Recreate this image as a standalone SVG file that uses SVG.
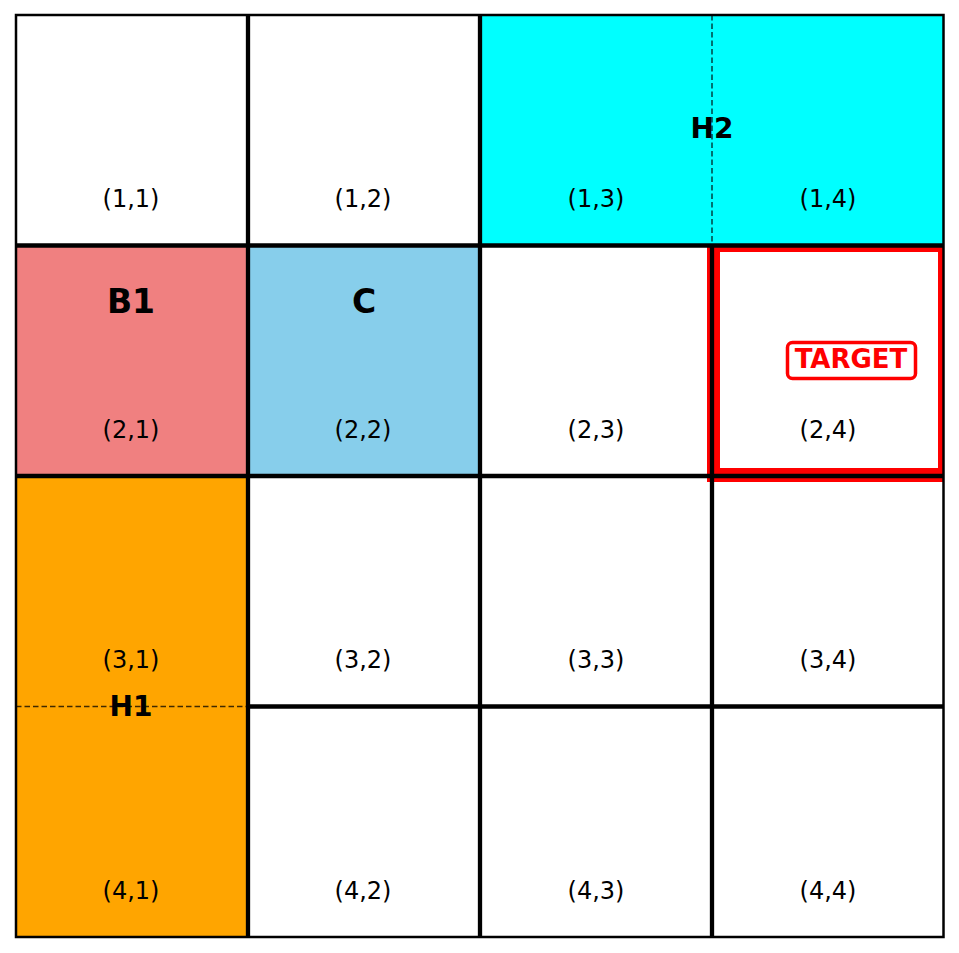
<svg xmlns="http://www.w3.org/2000/svg" width="959" height="953" viewBox="0 0 959 953">
<style>
.cell{stroke:#d3d3d3;stroke-width:1}
.grid{stroke:#000;stroke-width:4.3;fill:none}
.dash{stroke:#000;stroke-opacity:0.75;stroke-width:1.5;stroke-dasharray:5.5,3;fill:none}
.lbl{font-family:"DejaVu Sans",sans-serif;font-size:24px;text-anchor:middle;fill:#000}
.big{font-family:"DejaVu Sans",sans-serif;font-weight:bold;font-size:33px;text-anchor:middle;fill:#000}
.mid{font-family:"DejaVu Sans",sans-serif;font-weight:bold;font-size:28px;text-anchor:middle;fill:#000}
.tgt{font-family:"DejaVu Sans",sans-serif;font-weight:bold;font-size:26px;text-anchor:middle;fill:#ff0000}
</style>
<rect x="0" y="0" width="959" height="953" fill="#fff"/>
<g id="cells">
<g id="c11"><rect class="cell" x="16" y="15" width="232" height="230.5" fill="#fff"/><text class="lbl" x="131" y="207">(1,1)</text></g>
<g id="c12"><rect class="cell" x="248" y="15" width="232" height="230.5" fill="#fff"/><text class="lbl" x="363" y="207">(1,2)</text></g>
<g id="H2"><rect class="cell" x="480" y="15" width="463.5" height="230.5" fill="#00ffff"/></g>
<g id="B1"><rect class="cell" x="16" y="245.5" width="232" height="230.5" fill="#f08080"/></g>
<g id="C"><rect class="cell" x="248" y="245.5" width="232" height="230.5" fill="#87ceeb"/></g>
<g id="c23"><rect class="cell" x="480" y="245.5" width="232" height="230.5" fill="#fff"/></g>
<g id="c24"><rect class="cell" x="712" y="245.5" width="231.5" height="230.5" fill="#fff"/></g>
<g id="H1"><rect class="cell" x="16" y="476" width="232" height="461" fill="#ffa500"/></g>
<g id="c32"><rect class="cell" x="248" y="476" width="232" height="230.5" fill="#fff"/></g>
<g id="c33"><rect class="cell" x="480" y="476" width="232" height="230.5" fill="#fff"/></g>
<g id="c34"><rect class="cell" x="712" y="476" width="231.5" height="230.5" fill="#fff"/></g>
<g id="c42"><rect class="cell" x="248" y="706.5" width="232" height="230.5" fill="#fff"/></g>
<g id="c43"><rect class="cell" x="480" y="706.5" width="232" height="230.5" fill="#fff"/></g>
<g id="c44"><rect class="cell" x="712" y="706.5" width="231.5" height="230.5" fill="#fff"/></g>
</g>
<g id="highlight">
<path fill="#ff0000" fill-rule="evenodd" d="M707 246 H943.5 V482 H707 Z M720 252 V468 H938 V252 Z"/>
</g>
<g id="connectors">
<line class="grid" x1="248" y1="15" x2="248" y2="937"/>
<line class="grid" x1="480" y1="15" x2="480" y2="937"/>
<line class="grid" x1="712" y1="245.5" x2="712" y2="937"/>
<line class="grid" x1="16" y1="245.5" x2="943.5" y2="245.5"/>
<line class="grid" x1="16" y1="476" x2="943.5" y2="476"/>
<line class="grid" x1="248" y1="706.5" x2="943.5" y2="706.5"/>
<line class="dash" x1="712" y1="15" x2="712" y2="245.5"/>
<line class="dash" x1="16" y1="706.5" x2="248" y2="706.5"/>
<rect x="16" y="15" width="927.5" height="922" fill="none" stroke="#000" stroke-width="2.5"/>
</g>
<g id="labels">
<text class="lbl" x="596" y="207">(1,3)</text>
<text class="lbl" x="828" y="207">(1,4)</text>
<text class="lbl" x="131" y="437.5">(2,1)</text>
<text class="lbl" x="363" y="437.5">(2,2)</text>
<text class="lbl" x="596" y="437.5">(2,3)</text>
<text class="lbl" x="828" y="437.5">(2,4)</text>
<text class="lbl" x="131" y="668">(3,1)</text>
<text class="lbl" x="363" y="668">(3,2)</text>
<text class="lbl" x="596" y="668">(3,3)</text>
<text class="lbl" x="828" y="668">(3,4)</text>
<text class="lbl" x="131" y="898.5">(4,1)</text>
<text class="lbl" x="363" y="898.5">(4,2)</text>
<text class="lbl" x="596" y="898.5">(4,3)</text>
<text class="lbl" x="828" y="898.5">(4,4)</text>
<text class="big" x="131" y="313">B1</text>
<text class="big" x="364" y="313">C</text>
<text class="mid" x="712" y="138">H2</text>
<text class="mid" x="131" y="716">H1</text>
</g>
<g id="target">
<rect x="787.5" y="342.5" width="128" height="36" rx="5" fill="#fff" stroke="#ff0000" stroke-width="3.5"/>
<text class="tgt" x="851" y="368">TARGET</text>
</g>
</svg>
